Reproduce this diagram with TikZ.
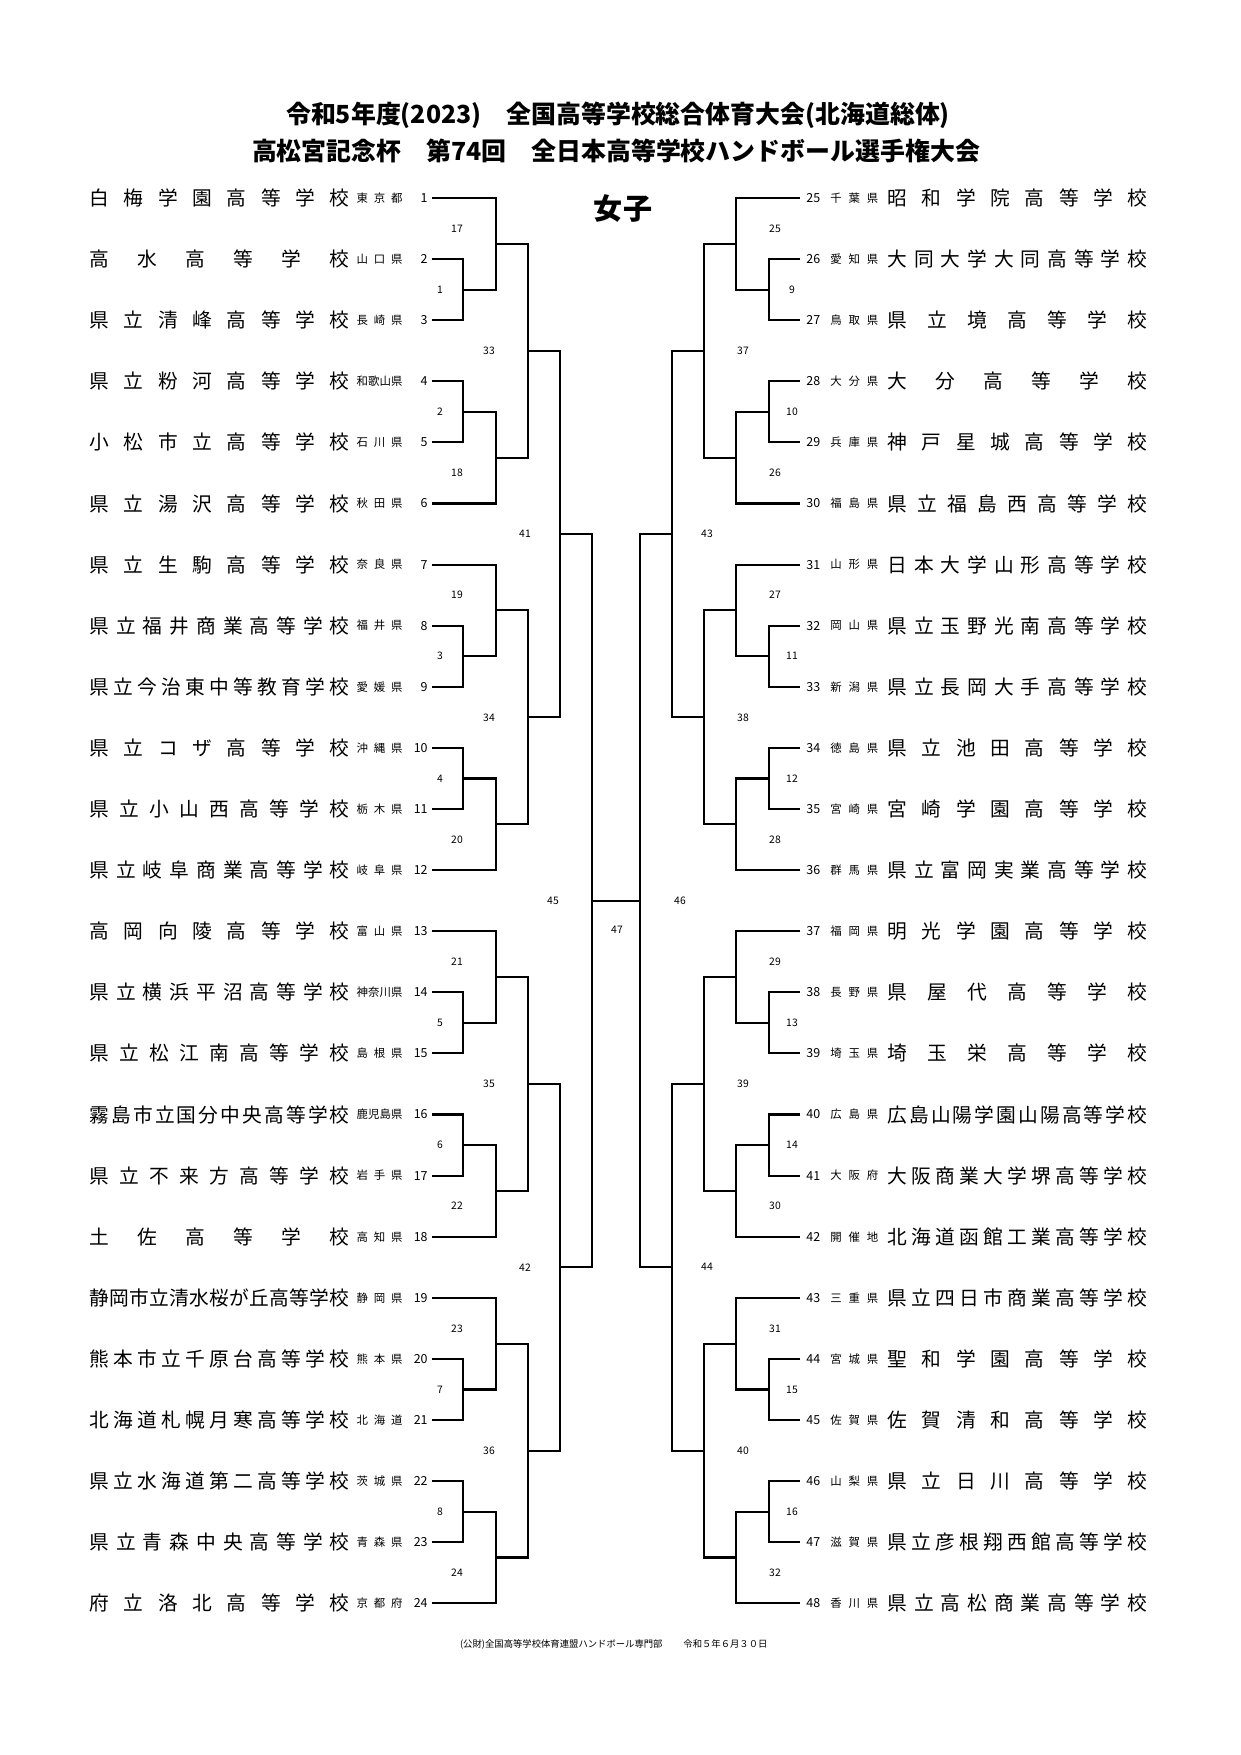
\documentclass[tikz,border=0pt]{standalone}
\usepackage{fontspec}
\setmainfont{Noto Sans CJK JP}
\usetikzlibrary{positioning}
\newlength\px \setlength\px{0.1693mm}
\def\spreadrest#1{\ifx#1\relax\else\hfil#1\expandafter\spreadrest\fi}
\def\spreadfirst#1{#1\spreadrest}
\newcommand\spreadbox[2]{\makebox[#1\px][s]{\expandafter\spreadfirst#2\relax}}
\begin{document}
\begin{tikzpicture}[x=1\px,y=-1\px,
  school/.style={inner sep=0,font=\fontsize{9.5}{10}\selectfont},
  pref/.style={inner sep=0,font=\fontsize{5.5}{6}\selectfont},
  seed/.style={inner sep=0,font=\fontsize{6}{6}\selectfont},
  mno/.style={inner sep=0,font=\fontsize{5}{5}\selectfont},
  bracket/.style={line width=1pt}
]
\useasboundingbox (0,0) rectangle (1241,1755);
\node[font=\bfseries\fontsize{12}{12}\selectfont] (title1) at (618,115) {令和5年度(2023)\quad 全国高等学校総合体育大会(北海道総体)};
\node[font=\bfseries\fontsize{12}{12}\selectfont] (title2) at (616,151) {高松宮記念杯\quad 第74回\quad 全日本高等学校ハンドボール選手権大会};
\node[font=\bfseries\fontsize{14}{14}\selectfont] (girls) at (623,209) {女子};

% left teams
\foreach \i/\sch/\pr in {1/白梅学園高等学校/東京都, 2/高水高等学校/山口県, 3/県立清峰高等学校/長崎県, 4/県立粉河高等学校/和歌山県, 5/小松市立高等学校/石川県, 6/県立湯沢高等学校/秋田県, 7/県立生駒高等学校/奈良県, 8/県立福井商業高等学校/福井県, 9/県立今治東中等教育学校/愛媛県, 10/県立コザ高等学校/沖縄県, 11/県立小山西高等学校/栃木県, 12/県立岐阜商業高等学校/岐阜県, 13/高岡向陵高等学校/富山県, 14/県立横浜平沼高等学校/神奈川県, 15/県立松江南高等学校/島根県, 16/霧島市立国分中央高等学校/鹿児島県, 17/県立不来方高等学校/岩手県, 18/土佐高等学校/高知県, 19/静岡市立清水桜が丘高等学校/静岡県, 20/熊本市立千原台高等学校/熊本県, 21/北海道札幌月寒高等学校/北海道, 22/県立水海道第二高等学校/茨城県, 23/県立青森中央高等学校/青森県, 24/府立洛北高等学校/京都府}{
  \pgfmathsetmacro\yy{198+(\i-1)*61.1}
  \node[school,anchor=east] (n\i) at (350,\yy) {\spreadbox{260}{\sch}};
  \node[pref,anchor=east] (p\i) at (403,\yy) {\spreadbox{46}{\pr}};
  \node[seed,anchor=east] (s\i) at (428,\yy) {\i};
  \coordinate (t\i) at (432,\yy);
}
% right teams
\foreach \i/\sch/\pr in {25/昭和学院高等学校/千葉県, 26/大同大学大同高等学校/愛知県, 27/県立境高等学校/鳥取県, 28/大分高等学校/大分県, 29/神戸星城高等学校/兵庫県, 30/県立福島西高等学校/福島県, 31/日本大学山形高等学校/山形県, 32/県立玉野光南高等学校/岡山県, 33/県立長岡大手高等学校/新潟県, 34/県立池田高等学校/徳島県, 35/宮崎学園高等学校/宮崎県, 36/県立富岡実業高等学校/群馬県, 37/明光学園高等学校/福岡県, 38/県屋代高等学校/長野県, 39/埼玉栄高等学校/埼玉県, 40/広島山陽学園山陽高等学校/広島県, 41/大阪商業大学堺高等学校/大阪府, 42/北海道函館工業高等学校/開催地, 43/県立四日市商業高等学校/三重県, 44/聖和学園高等学校/宮城県, 45/佐賀清和高等学校/佐賀県, 46/県立日川高等学校/山梨県, 47/県立彦根翔西館高等学校/滋賀県, 48/県立高松商業高等学校/香川県}{
  \pgfmathsetmacro\yy{198+(\i-25)*61.1}
  \node[seed,anchor=west] (s\i) at (806,\yy) {\i};
  \node[pref,anchor=west] (p\i) at (830,\yy) {\spreadbox{48}{\pr}};
  \node[school,anchor=west] (n\i) at (887,\yy) {\spreadbox{260}{\sch}};
  \coordinate (t\i) at (800,\yy);
}

% blocks of six teams
\foreach \s/\b/\pa/\pb/\qa/\qb/\r/\xa/\xb/\xc/\la/\lb/\lc in {
  1/0/1/2/17/18/33/463/496/528/440/457/489,
  7/6/3/4/19/20/34/463/496/528/440/457/489,
  13/12/5/6/21/22/35/463/496/528/440/457/489,
  19/18/7/8/23/24/36/463/496/528/440/457/489,
  25/0/9/10/25/26/37/769/736/704/792/775/743,
  31/6/11/12/27/28/38/769/736/704/792/775/743,
  37/12/13/14/29/30/39/769/736/704/792/775/743,
  43/18/15/16/31/32/40/769/736/704/792/775/743}{
  \pgfmathtruncatemacro\tb{\s+1}
  \pgfmathtruncatemacro\tc{\s+2}
  \pgfmathtruncatemacro\td{\s+3}
  \pgfmathtruncatemacro\te{\s+4}
  \pgfmathtruncatemacro\tf{\s+5}
  \coordinate (m\pa) at (\xa,{198+(\b+1.5)*61.1});
  \coordinate (m\pb) at (\xa,{198+(\b+3.5)*61.1});
  \coordinate (m\qa) at (\xb,{198+(\b+0.75)*61.1});
  \coordinate (m\qb) at (\xb,{198+(\b+4.25)*61.1});
  \coordinate (m\r) at (\xc,{198+(\b+2.5)*61.1});
  \draw[bracket] (t\tb) -| (m\pa) |- (t\tc);
  \draw[bracket] (t\td) -| (m\pb) |- (t\te);
  \draw[bracket] (t\s) -| (m\qa) |- (m\pa);
  \draw[bracket] (m\pb) -| (m\qb) |- (t\tf);
  \draw[bracket] (m\qa) -| (m\r) |- (m\qb);
  \node[mno] (l\pa) at (\la,{198+(\b+1.5)*61.1}) {\pa};
  \node[mno] (l\pb) at (\la,{198+(\b+3.5)*61.1}) {\pb};
  \node[mno] (l\qa) at (\lb,{198+(\b+0.5)*61.1}) {\qa};
  \node[mno] (l\qb) at (\lb,{198+(\b+4.5)*61.1}) {\qb};
  \node[mno] (l\r) at (\lc,{198+(\b+2.5)*61.1}) {\r};
}

% later rounds
\coordinate (m41) at (560,{198+5.5*61.1});
\coordinate (m42) at (560,{198+17.5*61.1});
\coordinate (m43) at (672,{198+5.5*61.1});
\coordinate (m44) at (672,{198+17.5*61.1});
\coordinate (m45) at (592,{198+11.5*61.1});
\coordinate (m46) at (640,{198+11.5*61.1});
\draw[bracket] (m33) -| (m41) |- (m34);
\draw[bracket] (m35) -| (m42) |- (m36);
\draw[bracket] (m37) -| (m43) |- (m38);
\draw[bracket] (m39) -| (m44) |- (m40);
\draw[bracket] (m41) -| (m45) |- (m42);
\draw[bracket] (m43) -| (m46) |- (m44);
\draw[bracket] (m45) -- (m46);
\node[mno] (l41) at (525,{198+5.5*61.1}) {41};
\node[mno] (l42) at (525,{198+17.5*61.1}) {42};
\node[mno] (l43) at (707,{198+5.5*61.1}) {43};
\node[mno] (l44) at (707,{198+17.5*61.1}) {44};
\node[mno] (l45) at (553,{198+11.5*61.1}) {45};
\node[mno] (l46) at (680,{198+11.5*61.1}) {46};
\node[mno] (l47) at (617,930) {47};

% footer
\node[mno,anchor=east,font=\fontsize{4.5}{5}\selectfont] (org) at (663,1644) {(公財)全国高等学校体育連盟ハンドボール専門部};
\node[mno,anchor=west,font=\fontsize{4.5}{5}\selectfont] (date) at (683,1644) {令和５年６月３０日};
\end{tikzpicture}
\end{document}
